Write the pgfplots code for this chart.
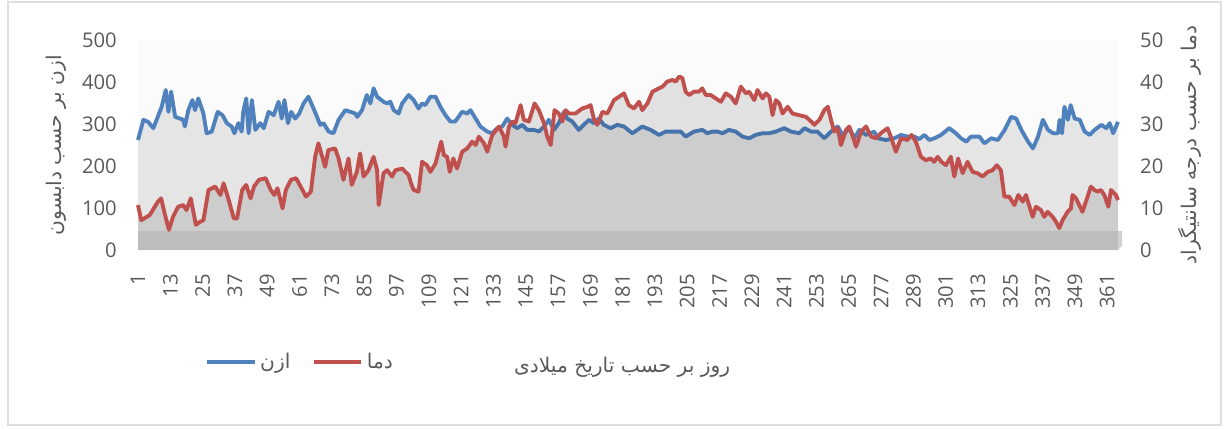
\documentclass[border=0pt]{standalone}
\usepackage{fontspec}
\setmainfont{Open Sans}
\newfontfamily\arabicfont[Script=Arabic]{DejaVu Sans}
\usepackage{pgfplots}
\pgfplotsset{compat=1.18}
\TeXXeTstate=1

\definecolor{ozone}{HTML}{4F81BD}
\definecolor{temp}{HTML}{C0504D}
\definecolor{txt}{HTML}{595959}

% 1 px of the reference = 0.02cm
\pgfplotsset{
  base/.style={
    at={(2.76cm,-5cm)}, anchor=south west,
    scale only axis, width=19.6cm, height=4.2cm,
    xmin=1, xmax=365,
    axis line style={draw=none},
    major tick length=0pt,
    tick label style={font=\fontsize{11.5}{13}\selectfont, text=txt},
    /pgf/number format/assume math mode=true,
    clip=false,
  },
}

\begin{document}
\begin{tikzpicture}
\useasboundingbox (0,0) rectangle (24.48cm,-8.56cm);
\draw[gray!25, line width=0.6pt] (0.16cm,-0.04cm) rectangle (24.42cm,-8.5cm);

% ozone, left axis
\begin{axis}[base,
  ymin=0, ymax=500,
  axis y line*=left,
  ytick={0,100,...,500},
  yticklabel style={xshift=-0.3cm},
  xtick={1,13,...,361},
  xticklabel style={rotate=90, anchor=east, xshift=-0.36cm},
  axis background/.style={fill=gray!3},
]
\addplot[draw=none, fill=black, fill opacity=0.085] coordinates {
(1,262)(3,310)(4.8,305)(6.7,290)(9.8,341)(11.3,381)(12.3,329)(13.3,377)(14.8,317)(17.8,310)(18.4,294)(19.7,333)(21.2,357)(22.2,333)(23.4,361)(25.3,325)(26.5,278)(28.4,282)(30.6,329)(32.4,321)(34,302)(35.8,294)(36.8,278)(38.3,302)(39.5,282)(40.1,329)(41.2,361)(42.1,278)(43.3,357)(44.6,286)(46.4,302)(47.7,290)(49.5,329)(51.4,321)(53.2,353)(54.4,313)(55.4,357)(56.7,302)(57.9,329)(59.4,313)(60.9,325)(62.5,349)(64.3,365)(66.2,337)(68.7,298)(69.9,302)(71.8,282)(73.6,278)(75.5,310)(78,333)(79.9,329)(81.7,325)(82.4,317)(84.2,333)(86,369)(87.3,349)(88.5,385)(89.8,365)(92.2,353)(93.5,349)(94.7,353)(96,333)(97.8,325)(99.1,349)(101.5,369)(103.4,357)(105.2,337)(106.5,349)(107.7,345)(109.6,365)(111.5,365)(113.3,341)(115.2,321)(117,306)(118.8,306)(121.4,329)(123.3,325)(124.5,333)(126.4,313)(128.2,294)(130.7,282)(132.6,278)(134.4,290)(136.3,294)(138.1,313)(140,298)(141.9,290)(143.7,298)(145.6,286)(148.1,286)(149.9,282)(151.8,294)(153.6,310)(155.5,286)(157.3,302)(159.2,329)(160.4,313)(162.3,306)(164.7,286)(166.6,298)(168.5,310)(170.3,302)(172.2,313)(174,298)(176.5,290)(179,298)(181.5,294)(184.6,278)(188.3,294)(191.4,286)(194.5,274)(197,282)(200.7,282)(202.6,282)(204.4,270)(207.5,282)(210.6,286)(212.5,278)(214.3,282)(216.2,282)(218.1,278)(220.5,286)(223,282)(225.5,270)(228,266)(230.4,274)(232.9,278)(235.4,278)(237.9,282)(241,290)(243.5,282)(246.6,278)(248.5,290)(251,282)(253.4,282)(255.9,266)(258.4,282)(260.9,294)(262.7,274)(265.2,290)(267.1,266)(268.9,286)(271.4,274)(274.5,282)(275.7,266)(278.8,262)(281.9,266)(284.4,274)(286.8,270)(289.3,270)(291.2,264)(293.1,274)(294.9,262)(296.8,266)(299.3,274)(302.3,290)(304.8,278)(306.7,266)(308.6,258)(310.4,270)(313.5,270)(315.4,254)(317.9,266)(320.4,262)(322.9,286)(325.3,317)(327.2,313)(329.1,286)(331.6,258)(333.4,242)(335.3,270)(337.1,310)(339,286)(340.9,278)(342.7,278)(343.3,310)(344.2,278)(345.1,341)(346.4,310)(347.4,345)(348.9,313)(350.8,310)(352.6,282)(354.5,274)(356.3,286)(358.8,298)(360.7,290)(361.9,302)(363.2,278)(365,305)
} \closedcycle;
\addplot[ozone, line width=2.2pt, line join=round] coordinates {
(1,262)(3,310)(4.8,305)(6.7,290)(9.8,341)(11.3,381)(12.3,329)(13.3,377)(14.8,317)(17.8,310)(18.4,294)(19.7,333)(21.2,357)(22.2,333)(23.4,361)(25.3,325)(26.5,278)(28.4,282)(30.6,329)(32.4,321)(34,302)(35.8,294)(36.8,278)(38.3,302)(39.5,282)(40.1,329)(41.2,361)(42.1,278)(43.3,357)(44.6,286)(46.4,302)(47.7,290)(49.5,329)(51.4,321)(53.2,353)(54.4,313)(55.4,357)(56.7,302)(57.9,329)(59.4,313)(60.9,325)(62.5,349)(64.3,365)(66.2,337)(68.7,298)(69.9,302)(71.8,282)(73.6,278)(75.5,310)(78,333)(79.9,329)(81.7,325)(82.4,317)(84.2,333)(86,369)(87.3,349)(88.5,385)(89.8,365)(92.2,353)(93.5,349)(94.7,353)(96,333)(97.8,325)(99.1,349)(101.5,369)(103.4,357)(105.2,337)(106.5,349)(107.7,345)(109.6,365)(111.5,365)(113.3,341)(115.2,321)(117,306)(118.8,306)(121.4,329)(123.3,325)(124.5,333)(126.4,313)(128.2,294)(130.7,282)(132.6,278)(134.4,290)(136.3,294)(138.1,313)(140,298)(141.9,290)(143.7,298)(145.6,286)(148.1,286)(149.9,282)(151.8,294)(153.6,310)(155.5,286)(157.3,302)(159.2,329)(160.4,313)(162.3,306)(164.7,286)(166.6,298)(168.5,310)(170.3,302)(172.2,313)(174,298)(176.5,290)(179,298)(181.5,294)(184.6,278)(188.3,294)(191.4,286)(194.5,274)(197,282)(200.7,282)(202.6,282)(204.4,270)(207.5,282)(210.6,286)(212.5,278)(214.3,282)(216.2,282)(218.1,278)(220.5,286)(223,282)(225.5,270)(228,266)(230.4,274)(232.9,278)(235.4,278)(237.9,282)(241,290)(243.5,282)(246.6,278)(248.5,290)(251,282)(253.4,282)(255.9,266)(258.4,282)(260.9,294)(262.7,274)(265.2,290)(267.1,266)(268.9,286)(271.4,274)(274.5,282)(275.7,266)(278.8,262)(281.9,266)(284.4,274)(286.8,270)(289.3,270)(291.2,264)(293.1,274)(294.9,262)(296.8,266)(299.3,274)(302.3,290)(304.8,278)(306.7,266)(308.6,258)(310.4,270)(313.5,270)(315.4,254)(317.9,266)(320.4,262)(322.9,286)(325.3,317)(327.2,313)(329.1,286)(331.6,258)(333.4,242)(335.3,270)(337.1,310)(339,286)(340.9,278)(342.7,278)(343.3,310)(344.2,278)(345.1,341)(346.4,310)(347.4,345)(348.9,313)(350.8,310)(352.6,282)(354.5,274)(356.3,286)(358.8,298)(360.7,290)(361.9,302)(363.2,278)(365,305)
};
\node[rotate=90, text=txt, font=\arabicfont\fontsize{11.5}{13}\selectfont]
  at (axis description cs:-0.083,0.5) {\beginR ازن بر حسب دابسون\endR};
\end{axis}

% temperature, right axis
\begin{axis}[base,
  ymin=0, ymax=50,
  axis y line*=right,
  ytick={0,10,...,50},
  yticklabel style={xshift=0.32cm},
  xtick=\empty,
  legend style={at={(axis description cs:0.063,-0.533)}, anchor=west,
    draw=none, fill=none, legend columns=2,
    font=\arabicfont\fontsize{11.5}{13}\selectfont, text=txt,
    /tikz/every even column/.append style={column sep=0.36cm}},
  legend image code/.code={\draw[#1] (0cm,0cm) -- (0.95cm,0cm);},
]
\addlegendimage{ozone, line width=2.2pt}
\addlegendentry{\beginR ازن\endR}
\addplot[draw=none, fill=black, fill opacity=0.1, forget plot] coordinates {
(1,10.7)(2.2,7.1)(5.3,8.3)(8.4,11.5)(9.6,12.3)(10.9,8.7)(12.5,4.8)(14,7.9)(15.9,10.3)(17.8,10.7)(19,9.5)(20.6,12.3)(22.5,6.0)(24,6.7)(25.3,7.1)(27.2,14.3)(29.7,15.1)(31.6,13.1)(32.8,15.9)(34.7,11.9)(36.6,7.5)(37.8,7.5)(39.7,14.3)(41.2,15.5)(42.8,12.3)(44.1,15.1)(45.9,16.7)(48.4,17.1)(50.3,14.3)(51.6,13.1)(52.8,14.7)(54.7,9.9)(55.9,14.3)(57.8,16.7)(59.7,17.1)(62.1,14.3)(63.4,12.7)(65.2,13.9)(66.8,22.2)(68,25.4)(70.5,19.8)(71.7,23.8)(74.2,24.2)(75.5,21.8)(77.3,16.7)(79.2,21.8)(80.4,15.5)(82.3,18.6)(83.5,23.0)(84.8,17.5)(86.6,19.0)(88.5,22.2)(89.8,19.0)(90.4,10.7)(92.2,18.3)(93.5,19.0)(95.4,17.5)(96.6,19.0)(99.1,19.4)(100.3,18.6)(101.5,17.9)(102.4,15.9)(103.4,14.3)(105.2,13.9)(106.5,21.0)(108.3,20.2)(109.6,18.6)(111.5,20.6)(113.6,25.8)(114.6,22.6)(115.8,22.2)(116.8,18.6)(118.1,21.8)(119.5,19.4)(121.4,23.4)(123.3,24.2)(125.1,25.8)(126.4,25.0)(127.6,27.0)(129.5,25.4)(130.7,23.4)(132.6,27.4)(135.1,29.4)(136.9,27.0)(137.5,24.6)(138.8,29.4)(140,30.6)(141.2,30.2)(143.1,34.5)(144.3,31.0)(146.2,30.6)(148.3,34.9)(149.9,33.3)(151.8,30.2)(153,27.0)(154.3,25.0)(155.7,33.3)(157.3,32.5)(158.6,30.6)(159.8,33.3)(161.1,32.5)(163.5,32.5)(166,33.7)(167.9,34.1)(169.1,34.5)(170.4,31.0)(171.6,29.8)(173.5,32.9)(175.3,32.5)(177.8,35.7)(179.7,36.5)(181.5,37.3)(183.3,34.5)(185.2,33.7)(187.1,35.3)(188.3,33.3)(190.2,34.9)(192.1,37.7)(194.5,38.5)(195.8,38.9)(197.6,40.1)(199.5,40.5)(200.7,40.1)(202,41.3)(203.2,40.9)(204.4,37.7)(205.7,36.9)(207.5,37.7)(209.4,37.7)(210.6,38.5)(211.9,36.9)(213.7,36.9)(215.6,36.1)(217.5,35.3)(219.3,37.3)(221.2,36.5)(223,34.9)(224.9,38.9)(226.8,37.3)(228,37.7)(229.9,35.7)(231.1,38.1)(233,36.1)(234.2,37.3)(235.5,36.5)(236.7,32.1)(237.9,35.7)(239.2,34.9)(240.4,32.5)(242.3,34.1)(244.1,32.5)(246.6,32.1)(249.1,31.7)(251,30.6)(252.2,29.8)(254.1,31.0)(255.9,33.3)(257.2,34.1)(258.4,31.0)(259.6,28.2)(260.9,29.0)(262.1,25.0)(264,28.6)(265.2,29.4)(266.5,27.0)(267.7,24.6)(269.6,28.2)(271.4,29.4)(273.3,27.0)(275.1,26.6)(276.9,27.8)(279.4,29.0)(280.6,27.0)(282.5,23.4)(284.4,26.6)(286.8,26.2)(288.3,27.4)(289.9,25.8)(291.8,22.2)(293.6,21.4)(295.5,21.8)(296.7,21.0)(298,22.2)(299.4,21.0)(301.1,20.2)(302.9,22.2)(304.2,17.5)(305.6,21.8)(307.3,18.3)(309.1,21.0)(311,18.6)(312.8,18.3)(314.7,17.5)(316.6,18.6)(318.4,19.0)(320,20.2)(321.5,19.0)(322.8,12.7)(324.6,12.7)(326.5,10.7)(328,13.1)(329.6,11.5)(330.8,13.1)(333.3,7.9)(334.5,10.3)(336.4,9.5)(337.6,7.9)(338.9,9.1)(340.7,7.9)(342,6.7)(343.2,5.2)(344.4,7.1)(346.3,9.1)(347.5,9.9)(348.1,13.1)(349.4,12.3)(350.6,10.7)(351.8,9.1)(353.7,12.7)(354.9,15.1)(356.2,14.3)(357.4,13.9)(358.6,14.3)(359.9,13.1)(361.4,10.3)(362.4,14.3)(364.2,13.1)(365,11.9)
} \closedcycle;
% floor band
\fill[gray!55, opacity=0.8] (axis cs:1,0) rectangle (axis cs:365,4.5);
\fill[gray!45, opacity=0.8] (axis cs:365,0) -- (axis cs:365,4.5) -- (axis cs:366.5,4.5) -- (axis cs:366.5,1) -- cycle;
\addplot[temp, line width=2.2pt, line join=round] coordinates {
(1,10.7)(2.2,7.1)(5.3,8.3)(8.4,11.5)(9.6,12.3)(10.9,8.7)(12.5,4.8)(14,7.9)(15.9,10.3)(17.8,10.7)(19,9.5)(20.6,12.3)(22.5,6.0)(24,6.7)(25.3,7.1)(27.2,14.3)(29.7,15.1)(31.6,13.1)(32.8,15.9)(34.7,11.9)(36.6,7.5)(37.8,7.5)(39.7,14.3)(41.2,15.5)(42.8,12.3)(44.1,15.1)(45.9,16.7)(48.4,17.1)(50.3,14.3)(51.6,13.1)(52.8,14.7)(54.7,9.9)(55.9,14.3)(57.8,16.7)(59.7,17.1)(62.1,14.3)(63.4,12.7)(65.2,13.9)(66.8,22.2)(68,25.4)(70.5,19.8)(71.7,23.8)(74.2,24.2)(75.5,21.8)(77.3,16.7)(79.2,21.8)(80.4,15.5)(82.3,18.6)(83.5,23.0)(84.8,17.5)(86.6,19.0)(88.5,22.2)(89.8,19.0)(90.4,10.7)(92.2,18.3)(93.5,19.0)(95.4,17.5)(96.6,19.0)(99.1,19.4)(100.3,18.6)(101.5,17.9)(102.4,15.9)(103.4,14.3)(105.2,13.9)(106.5,21.0)(108.3,20.2)(109.6,18.6)(111.5,20.6)(113.6,25.8)(114.6,22.6)(115.8,22.2)(116.8,18.6)(118.1,21.8)(119.5,19.4)(121.4,23.4)(123.3,24.2)(125.1,25.8)(126.4,25.0)(127.6,27.0)(129.5,25.4)(130.7,23.4)(132.6,27.4)(135.1,29.4)(136.9,27.0)(137.5,24.6)(138.8,29.4)(140,30.6)(141.2,30.2)(143.1,34.5)(144.3,31.0)(146.2,30.6)(148.3,34.9)(149.9,33.3)(151.8,30.2)(153,27.0)(154.3,25.0)(155.7,33.3)(157.3,32.5)(158.6,30.6)(159.8,33.3)(161.1,32.5)(163.5,32.5)(166,33.7)(167.9,34.1)(169.1,34.5)(170.4,31.0)(171.6,29.8)(173.5,32.9)(175.3,32.5)(177.8,35.7)(179.7,36.5)(181.5,37.3)(183.3,34.5)(185.2,33.7)(187.1,35.3)(188.3,33.3)(190.2,34.9)(192.1,37.7)(194.5,38.5)(195.8,38.9)(197.6,40.1)(199.5,40.5)(200.7,40.1)(202,41.3)(203.2,40.9)(204.4,37.7)(205.7,36.9)(207.5,37.7)(209.4,37.7)(210.6,38.5)(211.9,36.9)(213.7,36.9)(215.6,36.1)(217.5,35.3)(219.3,37.3)(221.2,36.5)(223,34.9)(224.9,38.9)(226.8,37.3)(228,37.7)(229.9,35.7)(231.1,38.1)(233,36.1)(234.2,37.3)(235.5,36.5)(236.7,32.1)(237.9,35.7)(239.2,34.9)(240.4,32.5)(242.3,34.1)(244.1,32.5)(246.6,32.1)(249.1,31.7)(251,30.6)(252.2,29.8)(254.1,31.0)(255.9,33.3)(257.2,34.1)(258.4,31.0)(259.6,28.2)(260.9,29.0)(262.1,25.0)(264,28.6)(265.2,29.4)(266.5,27.0)(267.7,24.6)(269.6,28.2)(271.4,29.4)(273.3,27.0)(275.1,26.6)(276.9,27.8)(279.4,29.0)(280.6,27.0)(282.5,23.4)(284.4,26.6)(286.8,26.2)(288.3,27.4)(289.9,25.8)(291.8,22.2)(293.6,21.4)(295.5,21.8)(296.7,21.0)(298,22.2)(299.4,21.0)(301.1,20.2)(302.9,22.2)(304.2,17.5)(305.6,21.8)(307.3,18.3)(309.1,21.0)(311,18.6)(312.8,18.3)(314.7,17.5)(316.6,18.6)(318.4,19.0)(320,20.2)(321.5,19.0)(322.8,12.7)(324.6,12.7)(326.5,10.7)(328,13.1)(329.6,11.5)(330.8,13.1)(333.3,7.9)(334.5,10.3)(336.4,9.5)(337.6,7.9)(338.9,9.1)(340.7,7.9)(342,6.7)(343.2,5.2)(344.4,7.1)(346.3,9.1)(347.5,9.9)(348.1,13.1)(349.4,12.3)(350.6,10.7)(351.8,9.1)(353.7,12.7)(354.9,15.1)(356.2,14.3)(357.4,13.9)(358.6,14.3)(359.9,13.1)(361.4,10.3)(362.4,14.3)(364.2,13.1)(365,11.9)
};
\addlegendentry{\beginR دما\endR}
\node[rotate=90, text=txt, font=\arabicfont\fontsize{11.5}{13}\selectfont]
  at (axis description cs:1.0735,0.5) {\beginR دما بر حسب درجه سانتیگراد\endR};
\node[text=txt, font=\arabicfont\fontsize{11.5}{13}\selectfont]
  at (axis description cs:0.494,-0.557) {\beginR روز بر حسب تاریخ میلادی\endR};
\end{axis}
\end{tikzpicture}
\end{document}
